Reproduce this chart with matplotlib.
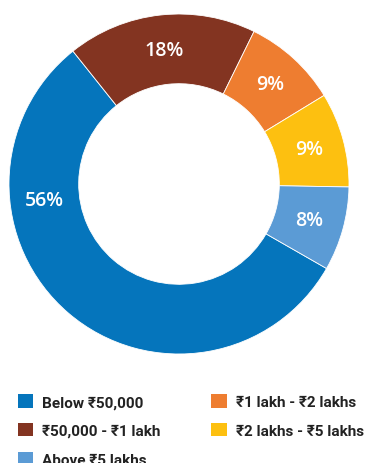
import matplotlib
matplotlib.use("Agg")
import matplotlib.pyplot as plt
import numpy as np

# Share of respondents by income bracket
categories = ["Below ₹50,000", "₹50,000 - ₹1 lakh", "₹1 lakh - ₹2 lakhs",
              "₹2 lakhs - ₹5 lakhs", "Above ₹5 lakhs"]
shares = [56, 18, 9, 9, 8]
colors = ["#0575BC", "#833421", "#EE7D30", "#FDC010", "#5B9BD5"]
legend_order = [0, 1, 4, 2, 3]

W, H = 370, 464
fig = plt.figure(figsize=(W / 100, H / 100), dpi=100)
fig.patch.set_facecolor("white")

cx, cy, R = 179, 279, 170
ax = fig.add_axes([(cx - R) / W, (cy - R) / H, 2 * R / W, 2 * R / H])

wedges, _ = ax.pie(shares, colors=colors, startangle=-29.8, counterclock=False,
                   radius=1.0, wedgeprops=dict(width=0.41, edgecolor="white",
                                               linewidth=0.6))
ax.set_xlim(-1, 1)
ax.set_ylim(-1, 1)
ax.set_aspect("equal")
ax.axis("off")

label_r = 0.795
for i, (w, v) in enumerate(zip(wedges, shares)):
    ang = (w.theta1 + w.theta2) / 2
    if i == 0:
        ang = 187.0  # large slice: label on the left side
    x, y = label_r * np.cos(np.radians(ang)), label_r * np.sin(np.radians(ang))
    ax.text(x, y, f"{v}%", ha="center", va="center", color="white",
            fontsize=14, fontweight="semibold",
            family=["Open Sans", "DejaVu Sans"])

handles = [wedges[i] for i in legend_order]
labels = [categories[i] for i in legend_order]
leg = fig.legend(handles, labels, ncol=2, loc="upper left",
                 bbox_to_anchor=(18 / W, 1 - 395 / H), frameon=False,
                 borderpad=0, borderaxespad=0, handlelength=1.0,
                 handleheight=1.0, handletextpad=0.6, labelspacing=0.9,
                 columnspacing=3.3,
                 prop=dict(family=["Roboto", "Noto Sans", "DejaVu Sans"],
                           size=11, weight="semibold"))
for t in leg.get_texts():
    t.set_color("#222222")
for h in leg.legend_handles:
    h.set_edgecolor("none")

fig.savefig("out.png", dpi=100)
